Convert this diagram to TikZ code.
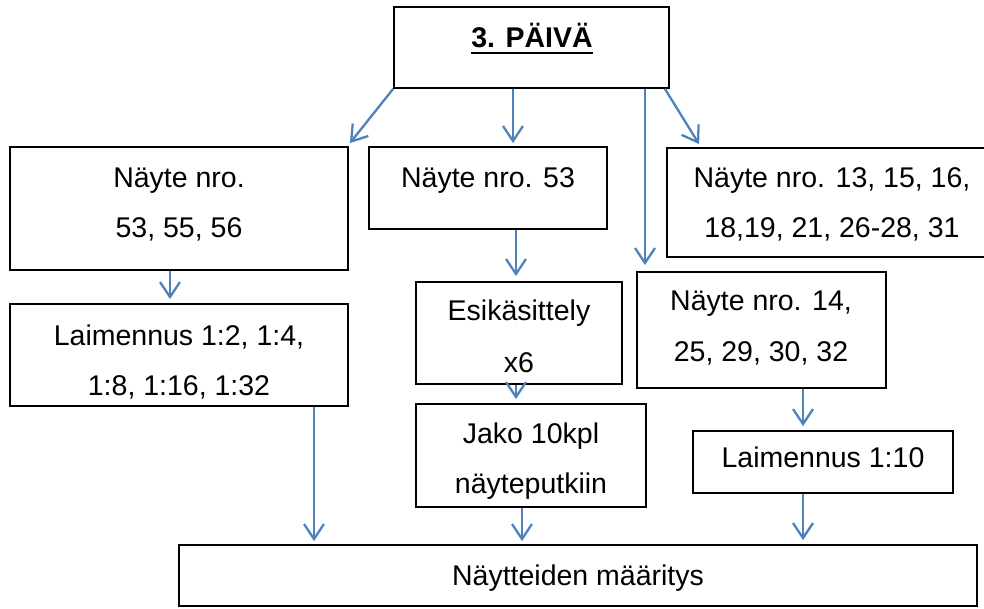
\documentclass[tikz,border=0pt]{standalone}
\usepackage{fontspec}
\setmainfont{Liberation Sans}
\usetikzlibrary{arrows.meta,calc}
\definecolor{arrblue}{HTML}{4F81BD}
\begin{document}
\begin{tikzpicture}[x=1pt,y=-1pt,
  box/.style={draw=black,line width=1.8pt,rectangle,inner sep=0pt},
  arr/.style={draw=arrblue,line width=2.3pt,-{Straight Barb[length=15pt,width=20pt]}},
  txt/.style={font=\fontsize{28.5}{50}\selectfont,inner sep=0pt,text height=20.4pt,text depth=0pt,anchor=center}]
\useasboundingbox (0,0) rectangle (984,608);
% boxes
\node[box,minimum width=275pt,minimum height=81pt] (top) at (531.5,47.5) {};
\node[box,minimum width=338pt,minimum height=123pt] (A) at (179,208.5) {};
\node[box,minimum width=238pt,minimum height=82pt] (B) at (488,188) {};
\node[box,minimum width=330pt,minimum height=109pt] (C) at (832,202.5) {};
\node[box,minimum width=338pt,minimum height=102pt] (D) at (179,355) {};
\node[box,minimum width=206pt,minimum height=102pt] (E) at (519,333) {};
\node[box,minimum width=249pt,minimum height=116pt] (F) at (761.5,330) {};
\node[box,minimum width=230pt,minimum height=103pt] (G) at (531,455.5) {};
\node[box,minimum width=260pt,minimum height=62pt] (H) at (823,462) {};
\node[box,minimum width=798pt,minimum height=61pt] (I) at (578,575.5) {};
% texts
\node[txt,font=\fontsize{28.5}{50}\selectfont\bfseries] (tTop) at (532,37) {3. PÄIVÄ};
\draw[line width=2.2pt] ($(tTop.south west)+(0,5.5)$) -- ($(tTop.south east)+(0,5.5)$);
\node[txt] (tA1) at (179,177) {Näyte nro.};
\node[txt] (tA2) at (179,227) {53, 55, 56};
\node[txt] (tB1) at (488,177) {Näyte nro. 53};
\node[txt] (tC1) at (832,177) {Näyte nro. 13, 15, 16,};
\node[txt] (tC2) at (832,227) {18,19, 21, 26-28, 31};
\node[txt] (tD1) at (179,335) {Laimennus 1:2, 1:4,};
\node[txt] (tD2) at (179,385) {1:8, 1:16, 1:32};
\node[txt] (tE1) at (519,310) {Esikäsittely};
\node[txt] (tE2) at (519,362) {x6};
\node[txt] (tF1) at (761,300) {Näyte nro. 14,};
\node[txt] (tF2) at (761,351) {25, 29, 30, 32};
\node[txt] (tG1) at (531,433) {Jako 10kpl};
\node[txt] (tG2) at (531,483) {näyteputkiin};
\node[txt] (tH1) at (823,457) {Laimennus 1:10};
\node[txt] (tI1) at (578,575) {Näytteiden määritys};
% arrow x positions
\coordinate (x170) at (170,0);
\coordinate (x314) at (314,0);
\coordinate (x513) at (513,0);
\coordinate (x516) at (516,0);
\coordinate (x522) at (522,0);
\coordinate (x645) at (645,0);
\coordinate (x803) at (803,0);
\coordinate (endA) at ($(A.north east)+(1,-3)$);
\coordinate (startC) at ($(top.south east)+(-5,0)$);
\coordinate (endC) at ($(C.north west)+(33,-3)$);
% arrows
\draw[arr] (top.south west) -- (endA);
\draw[arr,shorten >=3pt] (top.south -| x513) -- (B.north -| x513);
\draw[arr,shorten >=6pt] (top.south -| x645) -- (F.north -| x645);
\draw[arr] (startC) -- (endC);
\draw[arr,shorten >=4pt] (A.south -| x170) -- (D.north -| x170);
\draw[arr,shorten >=5pt] (B.south -| x516) -- (E.north -| x516);
\draw[arr,shorten >=4pt] (E.south -| x516) -- (G.north -| x516);
\draw[arr,shorten >=3pt] (D.south -| x314) -- (I.north -| x314);
\draw[arr,shorten >=3pt] (G.south -| x522) -- (I.north -| x522);
\draw[arr,shorten >=4pt] (F.south -| x803) -- (H.north -| x803);
\draw[arr,shorten >=4pt] (H.south -| x803) -- (I.north -| x803);
\end{tikzpicture}
\end{document}
